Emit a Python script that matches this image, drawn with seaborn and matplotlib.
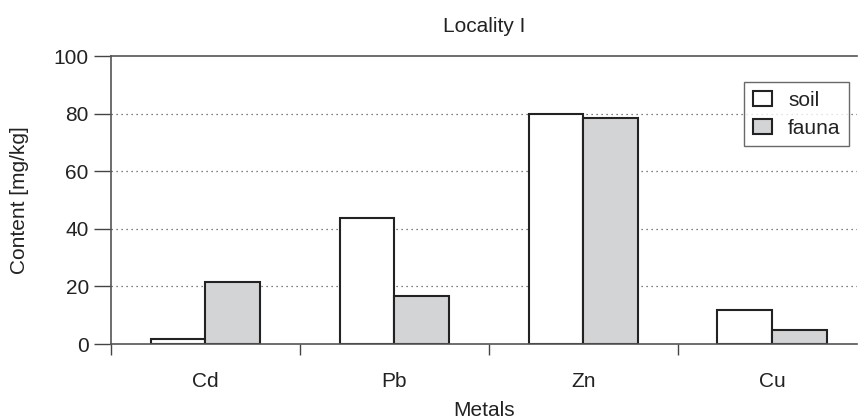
import matplotlib
matplotlib.use("Agg")
import matplotlib.pyplot as plt
import seaborn as sns
import pandas as pd
from matplotlib.ticker import FixedLocator, NullFormatter

metals = ["Cd", "Pb", "Zn", "Cu"]
soil = [1.6, 43.7, 80.0, 11.9]
fauna = [21.5, 16.6, 78.5, 4.8]
series = ["soil", "fauna"]
colors = {"soil": "#ffffff", "fauna": "#d3d4d6"}

df = pd.DataFrame({
    "Metals": metals * 2,
    "value": soil + fauna,
    "series": ["soil"] * len(metals) + ["fauna"] * len(metals),
})

sns.set_style("white")
plt.rcParams["font.family"] = ["Liberation Sans", "DejaVu Sans"]

FS = 15
fig = plt.figure(figsize=(8.59, 4.18), dpi=100)
ax = fig.add_axes([0.1292, 0.177, 0.8685, 0.689])

sns.barplot(data=df, x="Metals", y="value", hue="series", hue_order=series,
            palette=colors, width=0.578, edgecolor="#222222", linewidth=1.5,
            saturation=1, ax=ax, legend=True)

ax.set_xlim(-0.5, 3.45)
ax.set_ylim(0, 100)
ax.set_yticks([0, 20, 40, 60, 80, 100])
ax.tick_params(axis="y", direction="out", length=12, width=1, color="#444444",
               labelsize=FS, pad=4, left=True, labelcolor="#222222")
for y in [20, 40, 60, 80]:
    ax.axhline(y, color="#555555", linestyle=(0, (1, 3)), linewidth=0.9, zorder=0)

# boundaries as major ticks, labels as minor
ax.xaxis.set_major_locator(FixedLocator([-0.5, 0.5, 1.5, 2.5]))
ax.xaxis.set_major_formatter(NullFormatter())
ax.set_xticks(range(len(metals)), labels=metals, minor=True)
ax.tick_params(axis="x", which="major", direction="out", length=8, width=1,
               color="#444444", bottom=True)
ax.tick_params(axis="x", which="minor", length=0, labelsize=FS, pad=20,
               labelcolor="#222222")

for s in ["left", "top", "bottom"]:
    ax.spines[s].set_visible(True)
    ax.spines[s].set_color("#555555")
    ax.spines[s].set_linewidth(1.2)
ax.spines["right"].set_visible(False)

ax.set_xlabel("Metals", fontsize=FS, labelpad=7, color="#222222")
ax.set_ylabel("Content [mg/kg]", fontsize=FS, labelpad=18, color="#222222")
ax.set_title("Locality I", fontsize=FS, pad=17, color="#222222")

leg = ax.legend(loc="upper right", bbox_to_anchor=(0.989, 0.909), fontsize=FS,
                frameon=True, fancybox=False, edgecolor="#444444",
                handlelength=0.95, handleheight=0.75, handletextpad=0.75,
                borderpad=0.4, labelspacing=0.45, borderaxespad=0)
leg.get_frame().set_linewidth(1.0)
for t in leg.get_texts():
    t.set_color("#222222")

fig.savefig("out.png", dpi=100)
